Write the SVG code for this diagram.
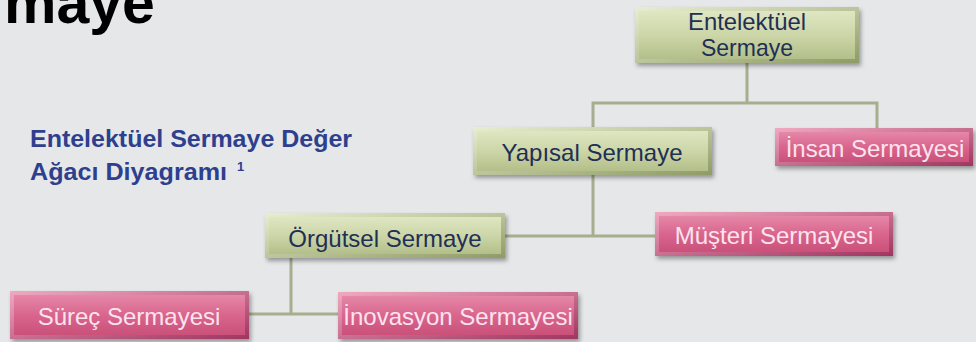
<svg xmlns="http://www.w3.org/2000/svg" width="976" height="342" viewBox="0 0 976 342">
<defs>
<linearGradient id="gG" x1="0" y1="0" x2="0" y2="1">
<stop offset="0" stop-color="#dfe6c2"/>
<stop offset="0.5" stop-color="#ccd6a8"/>
<stop offset="1" stop-color="#b3bf8a"/>
</linearGradient>
<linearGradient id="gGe" x1="0" y1="0" x2="1" y2="1">
<stop offset="0" stop-color="#e8eed0"/>
<stop offset="1" stop-color="#8f9b66"/>
</linearGradient>
<linearGradient id="gP" x1="0" y1="0" x2="0" y2="1">
<stop offset="0" stop-color="#e588a8"/>
<stop offset="0.5" stop-color="#d9658d"/>
<stop offset="1" stop-color="#c9517a"/>
</linearGradient>
<linearGradient id="gPe" x1="0" y1="0" x2="1" y2="1">
<stop offset="0" stop-color="#f0a9c0"/>
<stop offset="1" stop-color="#a03560"/>
</linearGradient>
<filter id="sh" x="-10%" y="-20%" width="125%" height="150%">
<feDropShadow dx="2" dy="3" stdDeviation="2" flood-color="#000" flood-opacity="0.35"/>
</filter>
</defs>
<style>
.g .o{fill:url(#gGe);filter:url(#sh)}
.g .i{fill:url(#gG)}
.p .o{fill:url(#gPe);filter:url(#sh)}
.p .i{fill:url(#gP)}
.g text{fill:#1f2f55;font-family:"Liberation Sans",Arial,sans-serif;font-size:24px;text-anchor:middle}
.p text{fill:#fbe4ee;font-family:"Liberation Sans",Arial,sans-serif;font-size:24px;text-anchor:middle}
.conn path{fill:none;stroke:#a7ae8e;stroke-width:3}
</style>
<rect width="976" height="342" fill="#e6e7e9"/>
<text x="4" y="23" font-family="Liberation Sans,Arial,sans-serif" font-weight="bold" font-size="59" fill="#000">maye</text>
<g id="subtitle" font-family="Liberation Sans,Arial,sans-serif" font-weight="bold" font-size="23" fill="#2e3f8e">
<text x="30" y="147" textLength="322" lengthAdjust="spacingAndGlyphs">Entelektüel Sermaye Değer</text>
<text x="30" y="180" textLength="197" lengthAdjust="spacingAndGlyphs">Ağacı Diyagramı</text>
<text x="237" y="171" font-size="13">1</text>
</g>
<g id="connectors" class="conn">
<path d="M747 63V103M593 127V103H877V128"/>
<path d="M593 175V236M505 236H655"/>
<path d="M291 258V314M249 314H338"/>
</g>
<g id="n-entelektuel" class="g">
<rect class="o" x="635" y="7" width="224" height="56"/>
<rect class="i" x="639" y="11" width="216" height="48"/>
<text x="747" y="30" font-size="20" textLength="118" lengthAdjust="spacingAndGlyphs">Entelektüel</text>
<text x="747" y="56" font-size="20" textLength="92" lengthAdjust="spacingAndGlyphs">Sermaye</text>
</g>
<g id="n-yapisal" class="g">
<rect class="o" x="473" y="127" width="239" height="48"/>
<rect class="i" x="477" y="131" width="231" height="40"/>
<text x="592" y="161">Yapısal Sermaye</text>
</g>
<g id="n-insan" class="p">
<rect class="o" x="775" y="128" width="198" height="38"/>
<rect class="i" x="779" y="132" width="190" height="30"/>
<text x="875" y="157" font-size="23">İnsan Sermayesi</text>
</g>
<g id="n-orgutsel" class="g">
<rect class="o" x="265" y="213" width="240" height="45"/>
<rect class="i" x="269" y="217" width="232" height="37"/>
<text x="385" y="247">Örgütsel Sermaye</text>
</g>
<g id="n-musteri" class="p">
<rect class="o" x="655" y="212" width="238" height="44"/>
<rect class="i" x="659" y="216" width="230" height="36"/>
<text x="774" y="244">Müşteri Sermayesi</text>
</g>
<g id="n-surec" class="p">
<rect class="o" x="10" y="291" width="239" height="48"/>
<rect class="i" x="14" y="295" width="231" height="40"/>
<text x="129" y="325">Süreç Sermayesi</text>
</g>
<g id="n-inovasyon" class="p">
<rect class="o" x="338" y="292" width="240" height="47"/>
<rect class="i" x="342" y="296" width="232" height="39"/>
<text x="458" y="325">İnovasyon Sermayesi</text>
</g>
</svg>
